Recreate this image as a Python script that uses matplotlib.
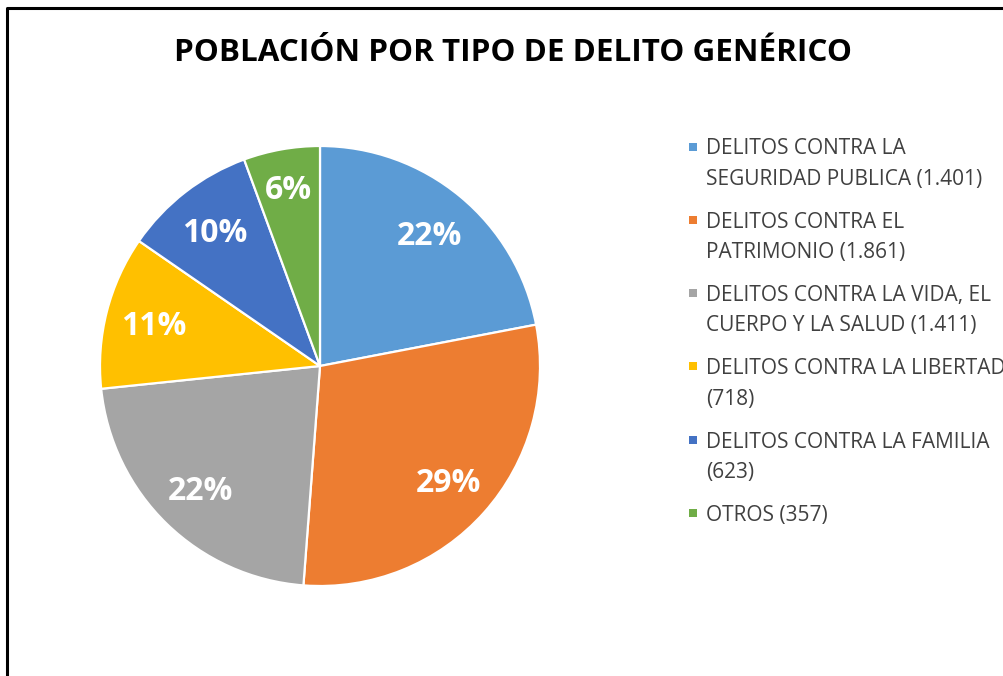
import matplotlib
matplotlib.use("Agg")
import matplotlib.pyplot as plt
import numpy as np
from matplotlib.patches import Rectangle
from matplotlib.lines import Line2D

# data
categories = [
    "DELITOS CONTRA LA\nSEGURIDAD PUBLICA",
    "DELITOS CONTRA EL\nPATRIMONIO",
    "DELITOS CONTRA LA VIDA, EL\nCUERPO Y LA SALUD",
    "DELITOS CONTRA LA LIBERTAD\n",
    "DELITOS CONTRA LA FAMILIA\n",
    "OTROS",
]
values = [1401, 1861, 1411, 718, 623, 357]
colors = ["#5B9BD5", "#ED7D31", "#A5A5A5", "#FFC000", "#4472C4", "#70AD47"]

plt.rcParams['font.family'] = ['Open Sans', 'DejaVu Sans']

W, H = 1004, 676
fig = plt.figure(figsize=(W / 100, H / 100), dpi=100)

# pie axes: centre (320, 366) px, radius 220 px
ax = fig.add_axes([100 / W, (H - 586) / H, 440 / W, 440 / H])
wedges, texts, autotexts = ax.pie(
    values, colors=colors, startangle=90, counterclock=False,
    autopct='%1.0f%%', pctdistance=0.78,
    wedgeprops=dict(edgecolor='white', linewidth=1.6),
    textprops=dict(color='white', fontsize=23, fontweight='bold'),
)
# put the cap-height centre of each label on the mid angle (small slices a bit further out)
total = sum(values)
cap_half = 0.714 * 23 * 100 / 72 / 2 / 220  # half cap height in data units
for w, t, v in zip(wedges, autotexts, values):
    ang = np.deg2rad((w.theta1 + w.theta2) / 2)
    r = 0.825 if v / total < 0.08 else 0.78
    t.set_position((r * np.cos(ang), r * np.sin(ang) - cap_half))
    t.set_va('baseline')
ax.set_xlim(-1, 1)
ax.set_ylim(-1, 1)
ax.set_aspect('equal')

# title
fig.text(513 / W, 1 - 53 / H, "POBLACIÓN POR TIPO DE DELITO GENÉRICO",
         ha='center', va='center', fontsize=22.6, fontweight='bold', color='black')

# legend drawn by hand so the square sits on the first line
y0 = 146.5
step = 73.3
for i, (cat, val, col) in enumerate(zip(categories, values, colors)):
    num = f"{val:,}".replace(",", ".")
    if cat.endswith("\n"):
        label = f"{cat}({num})"
    else:
        label = f"{cat} ({num})"
    y = y0 + i * step
    fig.patches.append(Rectangle((689 / W, 1 - (y + 4) / H), 8 / W, 8 / H,
                                 transform=fig.transFigure, facecolor=col,
                                 edgecolor='none'))
    fig.text(706 / W, 1 - (y - 8) / H, label, ha='left', va='top',
             fontsize=15, color='#404040', linespacing=1.57)

# frame (left and top edges visible in the crop)
fig.add_artist(Line2D([7 / W, 7 / W, 1.0], [0.0, 1 - 8 / H, 1 - 8 / H],
                      transform=fig.transFigure, color='black', linewidth=2.2))

fig.savefig("out.png", dpi=100)
